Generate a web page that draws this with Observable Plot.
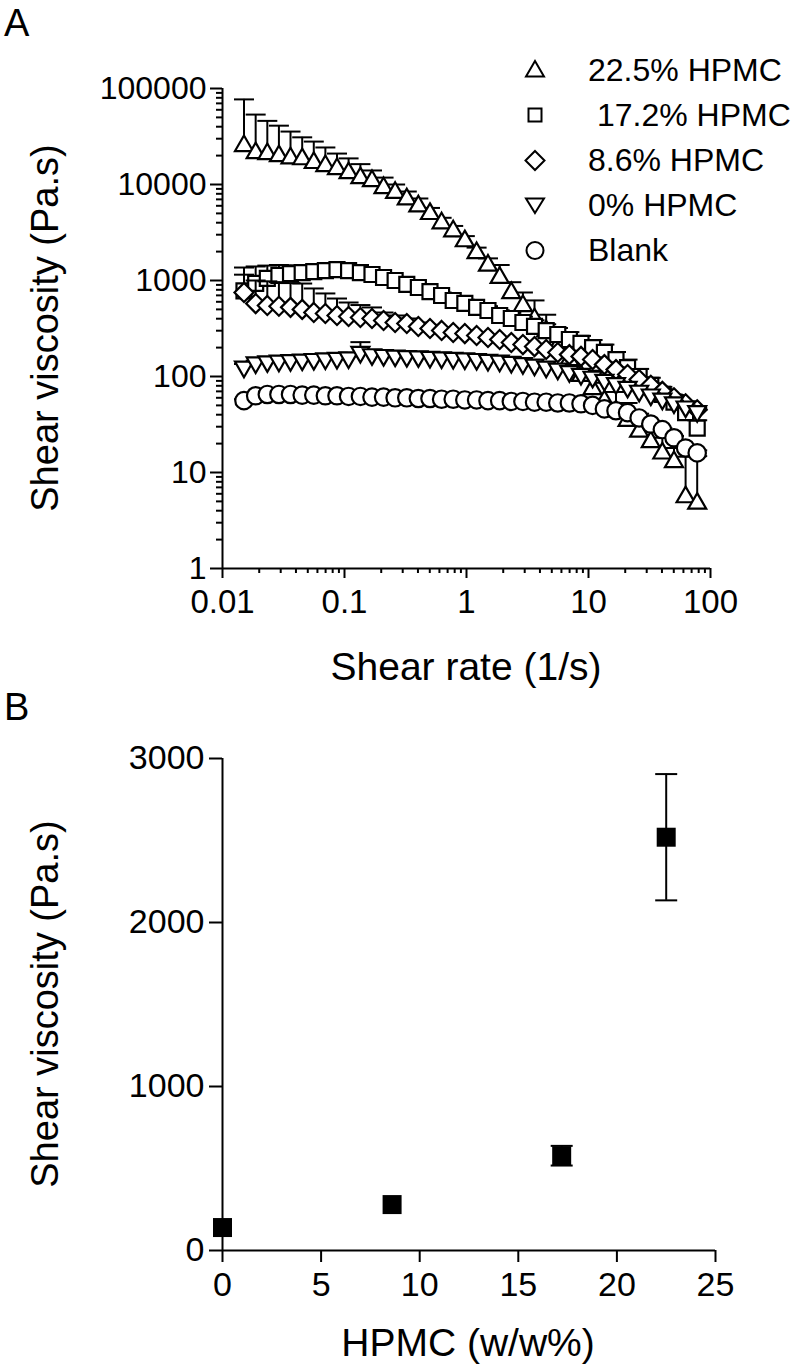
<!DOCTYPE html>
<html><head><meta charset="utf-8">
<script src="https://cdn.jsdelivr.net/npm/d3@7"></script>
<script src="https://cdn.jsdelivr.net/npm/@observablehq/plot@0.6"></script>
<style>
body{margin:0;background:#fff;}
#fig{position:relative;width:794px;height:1369px;font-family:"Liberation Sans",Arial,sans-serif;color:#000;overflow:hidden;}
.abs{position:absolute;white-space:pre;line-height:1;}
.ctr{transform:translate(-50%,-50%);}
.rot{transform:translate(-50%,-50%) rotate(-90deg);}
#legend{position:absolute;left:520px;top:48px;font-size:32px;line-height:45px;}
#legend div{display:flex;align-items:center;height:45px;}
#legend svg{width:30px;height:30px;margin-right:38px;}
</style></head><body><div id="fig"></div>
<script>
// ---------- Panel A data ----------
const shearRate = [0.015, 0.0187, 0.0233, 0.029, 0.0361, 0.045, 0.056, 0.0697, 0.0868, 0.108,
  0.135, 0.168, 0.209, 0.26, 0.324, 0.403, 0.502, 0.625, 0.778, 0.969,
  1.21, 1.5, 1.87, 2.33, 2.9, 3.61, 4.5, 5.6, 6.97, 8.68,
  10.8, 13.5, 16.8, 20.9, 26, 32.4, 40.3, 50.2, 62.5, 77.8];
const visc225 = [25500, 21500, 21000, 20000, 19000, 18600, 17000, 15800, 14700, 13300,
  11800, 11000, 9300, 8300, 7100, 6000, 5000, 4000, 3300, 2600,
  1960, 1450, 1080, 750, 550, 400, 300, 210, 150, 103,
  75, 56, 44, 35, 27, 21, 16, 13, 5.6, 4.8];
const err225 = [51500, 32000, 25000, 21000, 16600, 12400, 11000, 8500, 6300, 5400,
  4500, 3000, 2500, 1700, 1350, 1150, 700, 500, 400, 300,
  240, 250, 370, 210, 200, 220, 140, 110, 80, 60,
  40, 30, 25, 18, 14, 10, 7, 5, 9, 10];
const visc172 = [780, 935, 1050, 1130, 1180, 1210, 1240, 1270, 1300, 1270,
  1210, 1155, 1075, 1000, 910, 845, 767, 698, 619, 577,
  524, 487, 432, 402, 365, 332, 301, 274, 243, 221,
  200, 178, 150, 124, 100, 81, 65, 54, 42, 29];
const err172 = [585, 465, 380, 320, 260, 190, 140, 110, 100, 80,
  80, 75, 75, 70, 65, 60, 53, 52, 61, 53,
  56, 53, 58, 58, 55, 53, 49, 46, 47, 44,
  40, 37, 30, 26, 20, 16, 13, 10, 8, 6];
const visc86 = [750, 575, 550, 540, 525, 500, 465, 453, 432, 422,
  412, 402, 383, 365, 356, 332, 316, 302, 287, 280,
  267, 255, 243, 226, 215, 205, 191, 178, 169, 162,
  150, 133, 118, 105, 93, 81, 70, 60, 52, 45];
const err86 = [400, 425, 430, 420, 415, 430, 361, 280, 217, 168,
  143, 122, 81, 67, 46, 33, 29, 23, 23, 20,
  18, 15, 14, 14, 13, 12, 11, 11, 10, 9,
  8, 7, 6, 5, 5, 4, 4, 3, 3, 2];
const visc0 = [125, 138, 142, 144, 146, 148, 150, 152, 154, 156,
  178, 168, 165, 163, 161, 160, 158, 156, 154, 152,
  150, 147, 144, 140, 136, 131, 125, 119, 112, 105,
  98, 91, 84, 77, 70, 64, 58, 53, 48, 43];
const err0 = [10, 8, 6, 6, 6, 6, 6, 6, 6, 6,
  50, 8, 8, 8, 8, 8, 8, 8, 8, 8,
  8, 7, 7, 7, 7, 6, 6, 6, 5, 5,
  5, 4, 4, 4, 3, 3, 3, 3, 2, 2];
const viscBlank = [56, 63, 65, 65, 65, 64, 64, 63, 63, 62,
  62, 61, 61, 60, 60, 59, 59, 58, 58, 57,
  57, 56, 56, 55, 55, 54, 54, 53, 53, 52,
  50, 46, 44, 42, 37, 32, 28, 23, 18, 16];
const errBlank = [2, 2, 2, 2, 2, 2, 2, 2, 2, 2,
  2, 2, 2, 2, 2, 2, 2, 2, 2, 2,
  2, 2, 2, 2, 2, 2, 2, 2, 2, 2,
  2, 2, 2, 2, 2, 2, 1, 1, 1, 1];
const seriesNames = ["22.5% HPMC", " 17.2% HPMC", "8.6% HPMC", "0% HPMC", "Blank"];
const yTicksA = [1, 10, 100, 1000, 10000, 100000];
const xTicksA = [0.01, 0.1, 1, 10, 100];

// ---------- Panel B data ----------
const hpmc = [0, 8.6, 17.2, 22.5];
const viscB = [140, 280, 578, 2520];
const errB = [0, 0, 60, 385];
const yTicksB = [0, 1000, 2000, 3000];
const xTicksB = [0, 5, 10, 15, 20, 25];

// ---------- symbols ----------
const triUp = {draw(c){c.moveTo(0,-10); c.lineTo(9,5.6); c.lineTo(-9,5.6); c.closePath();}};
const triDown = {draw(c){c.moveTo(0,10); c.lineTo(9,-5.6); c.lineTo(-9,-5.6); c.closePath();}};
const square = {draw(c){c.rect(-7.5,-7.5,15,15);}};
const diamond = {draw(c){c.moveTo(0,-9.5); c.lineTo(9.5,0); c.lineTo(0,9.5); c.lineTo(-9.5,0); c.closePath();}};
const circle = {draw(c){c.moveTo(8.7,0); c.arc(0,0,8.7,0,2*Math.PI); c.closePath();}};
const cap = {draw(c){c.moveTo(-10,0); c.lineTo(10,0);}};
const capB = {draw(c){c.moveTo(-11,0); c.lineTo(11,0);}};
const bigSquare = {draw(c){c.rect(-9.5,-9.5,19,19);}};

const series = [
  {name: seriesNames[0], v: visc225, e: err225, sym: triUp},
  {name: seriesNames[1], v: visc172, e: err172, sym: square},
  {name: seriesNames[2], v: visc86, e: err86, sym: diamond},
  {name: seriesNames[3], v: visc0, e: err0, sym: triDown},
  {name: seriesNames[4], v: viscBlank, e: errBlank, sym: circle}
];

const minorY = d3.range(0,5).flatMap(p => d3.range(2,10).map(m => m * Math.pow(10,p)));
const minorX = d3.range(-2,2).flatMap(p => d3.range(2,10).map(m => +(m * Math.pow(10,p)).toPrecision(3)));

const marksA = [];
for (const s of series) {
  const rows = shearRate.map((x,i) => ({x, v: s.v[i], up: s.v[i] + s.e[i]}));
  marksA.push(Plot.ruleX(rows, {x: "x", y1: "v", y2: "up", stroke: "black", strokeWidth: 2}));
  marksA.push(Plot.dot(rows, {x: "x", y: "up", symbol: cap, r: 5, stroke: "black", strokeWidth: 2, fill: "none"}));
  marksA.push(Plot.dot(rows, {x: "x", y: "v", symbol: s.sym, r: 8, fill: "white", stroke: "black", strokeWidth: 2.2}));
}

const font = '"Liberation Sans", Arial, sans-serif';
const plotA = Plot.plot({
  width: 794, height: 690,
  marginTop: 88, marginBottom: 122, marginLeft: 222, marginRight: 84,
  style: {fontFamily: font, color: "black", background: "transparent", overflow: "visible"},
  x: {type: "log", domain: [0.01, 100]},
  y: {type: "log", domain: [1, 100000]},
  marks: [
    Plot.axisY(minorY, {anchor: "left", tickSize: 6, tickFormat: () => "", strokeWidth: 2, label: null}),
    Plot.axisY(yTicksA, {anchor: "left", tickSize: 12, tickPadding: 4, tickFormat: d => String(d), fontSize: 32, strokeWidth: 2, label: null}),
    Plot.axisX(minorX, {anchor: "bottom", tickSize: 5, tickFormat: () => "", strokeWidth: 2, label: null}),
    Plot.axisX(xTicksA, {anchor: "bottom", tickSize: 10, tickPadding: 11, tickFormat: d => String(d), fontSize: 33, strokeWidth: 2, label: null}),
    Plot.ruleX([0.01], {y1: 1, y2: 100000, stroke: "black", strokeWidth: 2}),
    Plot.ruleY([1], {x1: 0.01, x2: 100, stroke: "black", strokeWidth: 2}),
    ...marksA
  ]
});

const rowsB = hpmc.map((x,i) => ({x, v: viscB[i], e: errB[i], lo: viscB[i] - errB[i], hi: viscB[i] + errB[i]}));
const errRowsB = rowsB.filter(d => d.e > 0);
const plotB = Plot.plot({
  width: 794, height: 679,
  marginTop: 68, marginBottom: 119, marginLeft: 222, marginRight: 79,
  style: {fontFamily: font, color: "black", background: "transparent", overflow: "visible"},
  x: {domain: [0, 25]},
  y: {domain: [0, 3000]},
  marks: [
    Plot.axisY(yTicksB, {anchor: "left", tickSize: 13, tickPadding: 5, tickFormat: d => String(d), fontSize: 34, strokeWidth: 2, label: null}),
    Plot.axisX(xTicksB, {anchor: "bottom", tickSize: 12, tickPadding: 9, tickFormat: d => String(d), fontSize: 34, strokeWidth: 2, label: null}),
    Plot.ruleX([0], {y1: 0, y2: 3000, stroke: "black", strokeWidth: 2}),
    Plot.ruleY([0], {x1: 0, x2: 25, stroke: "black", strokeWidth: 2}),
    Plot.ruleX(errRowsB, {x: "x", y1: "lo", y2: "hi", stroke: "black", strokeWidth: 2}),
    Plot.dot(errRowsB, {x: "x", y: "lo", symbol: capB, r: 5, stroke: "black", strokeWidth: 2}),
    Plot.dot(errRowsB, {x: "x", y: "hi", symbol: capB, r: 5, stroke: "black", strokeWidth: 2}),
    Plot.dot(rowsB, {x: "x", y: "v", symbol: bigSquare, r: 8, fill: "black", stroke: "none"})
  ]
});

const fig = document.getElementById("fig");
function place(el, left, top){ el.style.position = "absolute"; el.style.left = left + "px"; el.style.top = top + "px"; fig.appendChild(el); }
place(plotA, 0, 0);
place(plotB, 0, 690);

function txt(s, left, top, size, cls){
  const d = document.createElement("div");
  d.className = "abs " + (cls || "");
  d.textContent = s;
  d.style.left = left + "px"; d.style.top = top + "px"; d.style.fontSize = size + "px";
  fig.appendChild(d);
}
txt("A", 4, 4, 38);
txt("Shear viscosity (Pa.s)", 45, 328, 38, "rot");
txt("Shear rate (1/s)", 466, 666, 39, "ctr");
txt("B", 4, 688, 38);
txt("Shear viscosity (Pa.s)", 45, 1004, 38, "rot");
txt("HPMC (w/w%)", 468, 1342, 39, "ctr");

// legend
const legend = document.createElement("div");
legend.id = "legend";
const legendShapes = [
  '<polygon points="15,5 24,20.6 6,20.6" />',
  '<rect x="8.5" y="7.5" width="13" height="13" />',
  '<polygon points="15,5 24.5,14.5 15,24 5.5,14.5" />',
  '<polygon points="15,22 24,7.4 6,7.4" />',
  '<circle cx="15" cy="14.5" r="8.5" />'
];
seriesNames.forEach((n,i) => {
  const row = document.createElement("div");
  row.innerHTML = '<svg viewBox="0 0 30 30"><g fill="white" stroke="black" stroke-width="2">' + legendShapes[i] + '</g></svg><span style="white-space:pre">' + n + '</span>';
  legend.appendChild(row);
});
fig.appendChild(legend);
</script></body></html>
